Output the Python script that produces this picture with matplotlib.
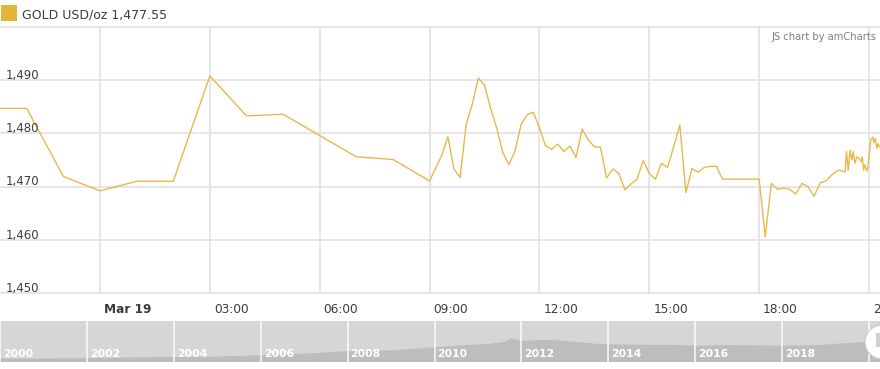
import matplotlib
matplotlib.use("Agg")
import matplotlib.pyplot as plt
from matplotlib.patches import Rectangle, Ellipse
from matplotlib.transforms import blended_transform_factory, offset_copy
import numpy as np

# ---------------- data ----------------
# minutes relative to Mar 19 00:00
minutes = [-180, -120, -60, 0, 60, 120, 180, 240, 300, 420, 480, 540,
           560, 570, 580, 590, 600, 610, 620, 630, 640, 650, 660, 670, 680,
           690, 700, 710, 720, 730, 740, 750, 760, 770, 780, 790, 800, 810,
           820, 830, 840, 850, 860, 870, 880, 890, 900, 910, 920, 930, 940,
           950, 960, 970, 980, 990, 1000, 1010, 1020, 1030, 1040, 1050, 1060,
           1070, 1080, 1090, 1100, 1110, 1120, 1130, 1140, 1150, 1160, 1170,
           1180, 1190, 1200, 1210, 1220,
           1221, 1223, 1226, 1229, 1232, 1234, 1237, 1240, 1244, 1247, 1249,
           1251, 1253, 1256, 1258, 1260, 1263, 1266, 1268, 1270, 1273, 1275,
           1277, 1280]
prices = [1484.7, 1484.7, 1471.9, 1469.2, 1471.0, 1471.0, 1490.8, 1483.3,
          1483.6, 1475.6, 1475.1, 1471.05,
          1475.9, 1479.4, 1473.3, 1471.7, 1481.7, 1485.5, 1490.4, 1489.1,
          1484.7, 1481.0, 1476.4, 1474.1, 1476.7, 1481.7, 1483.5, 1484.0,
          1481.0, 1477.7, 1477.0, 1478.0, 1476.6, 1477.6, 1475.5, 1480.8,
          1478.8, 1477.5, 1477.4, 1471.6, 1473.3, 1472.5, 1469.4, 1470.5,
          1471.4, 1474.9, 1472.5, 1471.4, 1474.4, 1473.6, 1477.5, 1481.6,
          1468.9, 1473.4, 1472.7, 1473.6, 1473.8, 1473.8, 1471.4, 1471.4,
          1471.4, 1471.4, 1471.4, 1471.4, 1471.4, 1460.6, 1470.6, 1469.5,
          1469.7, 1469.5, 1468.6, 1470.6, 1470.0, 1468.2, 1470.7, 1471.1,
          1472.3, 1473.1, 1472.8,
          1472.8, 1476.6, 1473.1, 1476.8, 1475.0, 1476.6, 1474.4, 1475.6,
          1475.3, 1474.7, 1475.6, 1473.1, 1474.1, 1473.0, 1473.4, 1475.6,
          1478.8, 1479.3, 1478.3, 1479.1, 1477.2, 1478.1, 1477.5, 1477.55]

y_ticks = [1450, 1460, 1470, 1480, 1490]
y_grid = [1450, 1460, 1470, 1480, 1490, 1500]
x_tick_hours = [0, 3, 6, 9, 12, 15, 18, 21]
x_tick_labels = ["Mar 19", "03:00", "06:00", "09:00", "12:00", "15:00",
                 "18:00", "21:00"]
legend_label = "GOLD USD/oz"
last_value = 1477.55
credit = "JS chart by amCharts"

scroll_years = [2000, 2001, 2002, 2003, 2004, 2005, 2006, 2007, 2008, 2009,
                2010, 2010.7, 2011.2, 2011.6, 2011.75, 2012.0, 2012.4, 2012.8,
                2013.3, 2013.8, 2014.5, 2015.5, 2016.0, 2016.6, 2017.5,
                2018.0, 2018.8, 2019.5, 2020.3]
scroll_prices = [280, 270, 300, 360, 400, 430, 520, 650, 850, 900, 1150,
                 1320, 1400, 1550, 1850, 1650, 1720, 1700, 1550, 1400, 1350,
                 1330, 1280, 1320, 1300, 1280, 1320, 1480, 1620]
scroll_label_years = [2000, 2002, 2004, 2006, 2008, 2010, 2012, 2014, 2016,
                      2018, 2020]

# ---------------- styling ----------------
W, H = 880, 369
GOLD = "#e9b84a"
SWATCH = "#e5b43a"
GRID = "#e2e2e2"
TXT = "#3c3c3c"
PX_PER_HOUR = 769 / 21.0
PX_PER_YEAR = 43.45
FONT = "DejaVu Sans"

fig = plt.figure(figsize=(W / 100, H / 100), dpi=100)
fig.patch.set_facecolor("white")


def fy(py):
    return 1 - py / H


# main plot
ax = fig.add_axes([0, fy(293), 1, (293 - 27) / H])
ax.axis("off")
ax.set_xlim(-100 / PX_PER_HOUR, 780 / PX_PER_HOUR)
ax.set_ylim(1450, 1500)
for v in y_grid:
    ax.axhline(v, color=GRID, lw=1.2, zorder=0, clip_on=False)
for h in x_tick_hours:
    ax.axvline(h, color=GRID, lw=1.2, zorder=0, clip_on=False)

hours = np.array(minutes) / 60.0
ax.plot(hours, prices, color=GOLD, lw=1.0, zorder=3, solid_joinstyle="round")

ytrans = offset_copy(blended_transform_factory(ax.transAxes, ax.transData),
                     fig=fig, x=0, y=1.2, units="dots")
for v in y_ticks:
    ax.text(6 / W, v, f"{v:,}", transform=ytrans, ha="left", va="baseline",
            fontsize=8.5, color=TXT, family=FONT, clip_on=False)

xtrans = offset_copy(blended_transform_factory(ax.transData, ax.transAxes),
                     fig=fig, x=4, y=-20, units="dots")
for h, lab in zip(x_tick_hours, x_tick_labels):
    ax.text(h, 0, lab, transform=xtrans, ha="left", va="baseline",
            fontsize=8.7, color=TXT, family=FONT, clip_on=False,
            fontweight="bold" if lab.startswith("Mar") else "normal")

# legend
fig.add_artist(Rectangle((1 / W, fy(21)), 16 / W, 16 / H,
                         transform=fig.transFigure, facecolor=SWATCH,
                         edgecolor="none"))
fig.text(22 / W, fy(18.5), f"{legend_label} {last_value:,.2f}", ha="left",
         va="baseline", fontsize=9.0, color=TXT, family=FONT)
fig.text(876 / W, fy(40), credit, ha="right", va="baseline", fontsize=7.2,
         color="#808080", family=FONT)

# scrollbar
sax = fig.add_axes([0, fy(362), 1, 41 / H])
sax.set_facecolor("#d6d6d6")
for sp in sax.spines.values():
    sp.set_visible(False)
sax.set_xticks([])
sax.set_yticks([])
sax.set_xlim(2000, 2000 + W / PX_PER_YEAR)
sax.set_ylim(0, 3200)
sax.fill_between(scroll_years, scroll_prices, 0, color="#bdbdbd", lw=0,
                 zorder=1)
for yr in scroll_label_years:
    sax.axvline(yr, color="white", lw=1.3, alpha=0.8, zorder=2)
    if yr < 2020:
        sax.text(yr + 3 / PX_PER_YEAR, 0, str(yr),
                 transform=offset_copy(sax.transData, fig=fig, x=0, y=5,
                                       units="dots"),
                 ha="left", va="baseline", fontsize=7.8, fontweight="bold",
                 color="white", family=FONT, zorder=3)

# scrollbar handle
fig.add_artist(Ellipse((882 / W, fy(342)), 34 / W, 34 / H,
                       transform=fig.transFigure, facecolor="white",
                       edgecolor="#c8c8c8", lw=0.8, zorder=5))
fig.add_artist(Rectangle((876 / W, fy(347)), 5 / W, 14 / H,
                         transform=fig.transFigure, facecolor="#d0d0d0",
                         edgecolor="none", zorder=6))

fig.savefig("out.png", dpi=100, facecolor="white")
